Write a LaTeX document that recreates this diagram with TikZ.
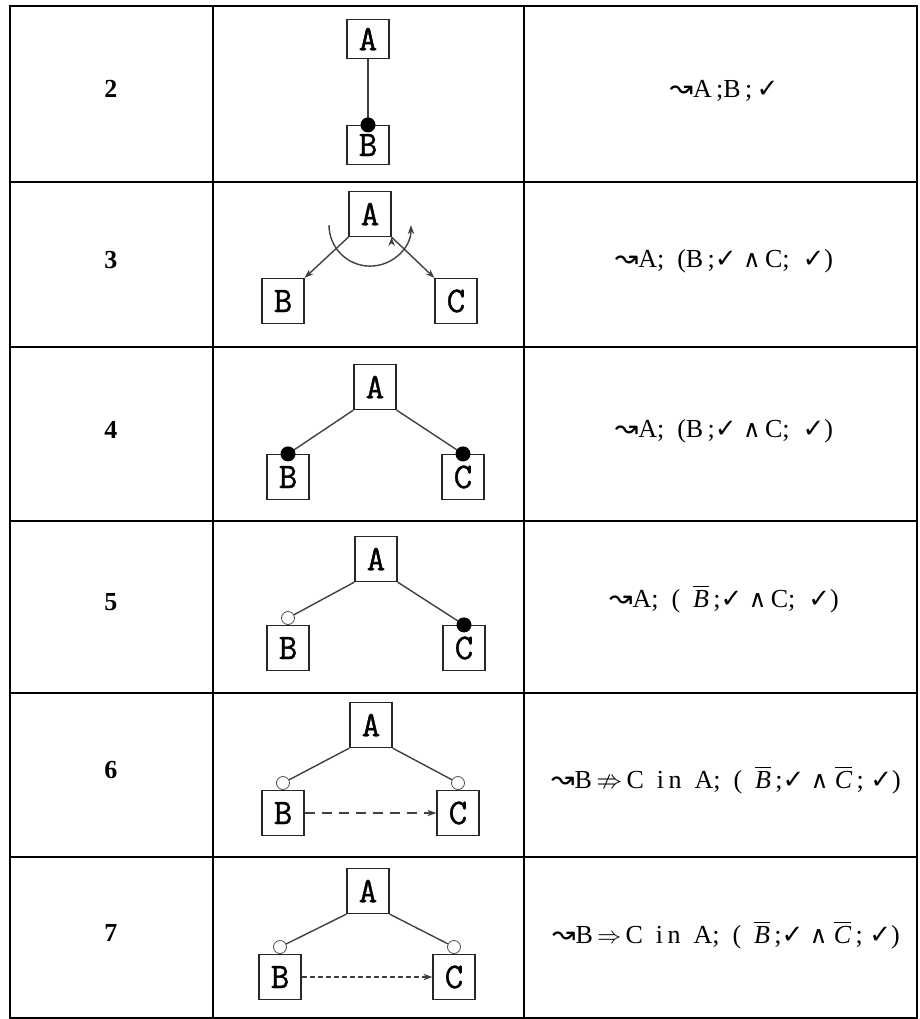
\documentclass[tikz,border=0pt]{standalone}
\usepackage{amsmath}
\usepackage{amssymb}
\usepackage{fontspec}
\setmainfont{Liberation Serif}
\newfontfamily\boxfont{Latin Modern Mono}[AutoFakeBold=1.1]
\newfontfamily\glyphfont{DejaVu Sans}
\newcommand{\lto}{{\glyphfont\fontsize{14}{14}\selectfont ↝}}
\newcommand{\ok}{{\glyphfont\bfseries ✓}}
\newcommand{\und}{{\glyphfont\fontsize{12}{14}\selectfont ∧}}
\usepackage{tikz}
\usetikzlibrary{arrows.meta,positioning,calc}

\begin{document}
\begin{tikzpicture}[x=0.5pt,y=-0.5pt,>={Stealth[length=4.5pt,width=3.2pt]},auto,
    box/.style={draw=black!85,line width=0.6pt,fill=white,inner sep=0pt,
      minimum width=21pt,minimum height=22.5pt,font=\boxfont\bfseries\fontsize{18}{18}\selectfont},
    boxlow/.style={box,minimum height=19.5pt},
    dot/.style={circle,fill=black,inner sep=0pt,minimum size=7.5pt},
    odot/.style={circle,draw=black!70,fill=white,line width=0.4pt,inner sep=0pt,minimum size=6.5pt},
    link/.style={draw=black!75,line width=0.7pt},
    rownum/.style={font=\bfseries\fontsize{13}{15}\selectfont},
    formula/.style={font=\fontsize{13}{15}\selectfont,anchor=base},
    tabline/.style={line width=1.3pt}]

      \useasboundingbox (0,0) rectangle (920,1019);

      % table
      \draw[tabline] (10,6) rectangle (917,1018);
      \draw[tabline] (213,6) -- (213,1018);
      \draw[tabline] (524,6) -- (524,1018);
      \foreach \y in {182,347,521,693,857}
        \draw[tabline] (10,\y) -- (917,\y);

      % row numbers
      \node[rownum] (n2) at (111,89) {2};
      \node[rownum] (n3) at (111,260) {3};
      \node[rownum] (n4) at (111,430) {4};
      \node[rownum] (n5) at (111,602) {5};
      \node[rownum] (n6) at (111,770) {6};
      \node[rownum] (n7) at (111,933) {7};

      % row 2
      \node[boxlow] (a2) at (368,39) {A};
      \node[boxlow] (b2) at (368,145) {B};
      \path[link] (a2.south) edge (b2.north);
      \node[dot] (d2) at (b2.north) {};

      % row 3
      \node[box] (a3) at (370,214) {A};
      \node[box] (b3) at (283,301) {B};
      \node[box] (c3) at (456,301) {C};
      \path[link,->]
      (a3.south west) edge (b3.north east)
      (a3.south east) edge (c3.north west);
      \draw[link,->] ([shift={(-41,-12)}]a3.south) arc[start angle=180,end angle=0,radius=41];

      % row 4
      \node[box] (a4) at (375,387) {A};
      \node[box] (b4) at (288,477) {B};
      \node[box] (c4) at (463,477) {C};
      \path[link]
      (a4.south west) edge (b4.north)
      (a4.south east) edge (c4.north);
      \node[dot] (db4) at (b4.north) {};
      \node[dot] (dc4) at (c4.north) {};

      % row 5
      \node[box] (a5) at (376,559) {A};
      \node[box] (b5) at (288,648) {B};
      \node[box] (c5) at (464,648) {C};
      \node[odot,anchor=south] (ob5) at (b5.north) {};
      \path[link]
      (a5.south west) edge (ob5)
      (a5.south east) edge (c5.north);
      \node[dot] (dc5) at (c5.north) {};

      % row 6
      \node[box] (a6) at (371,725) {A};
      \node[box] (b6) at (283,813) {B};
      \node[box] (c6) at (458,813) {C};
      \node[odot,anchor=south] (ob6) at (b6.north) {};
      \node[odot,anchor=south] (oc6) at (c6.north) {};
      \path[link]
      (a6.south west) edge (ob6)
      (a6.south east) edge (oc6);
      \draw[link,->,dash pattern=on 5pt off 3.5pt] (b6) -- (c6);

      % row 7
      \node[box] (a7) at (368,891) {A};
      \node[box] (b7) at (280,977) {B};
      \node[box] (c7) at (454,977) {C};
      \node[odot,anchor=south] (ob7) at (b7.north) {};
      \node[odot,anchor=south] (oc7) at (c7.north) {};
      \path[link]
      (a7.south west) edge (ob7)
      (a7.south east) edge (oc7);
      \draw[link,->,dash pattern=on 2.5pt off 1.5pt] (b7) -- (c7);

      % formulas
      \node[formula] (f2) at (724,97) {\lto A\,;B\,;\,\ok};
      \node[formula] (f3) at (724,267) {\lto A; \ (B\,;\ok\ \und\,C; \ \ok)};
      \node[formula] (f4) at (724,437) {\lto A; \ (B\,;\ok\ \und\,C; \ \ok)};
      \node[formula] (f5) at (724,607) {\lto A; \ ( \ $\overline{\mbox{\itshape B}}$\,;\ok\ \und\,C; \ \ok)};
      \node[formula] (f6) at (726,788) {\lto B\,$\nRightarrow$\,C \ i\,n \ A; \ ( \ $\overline{\mbox{\itshape B}}$\,;\ok\ \und\ $\overline{\mbox{\itshape C}}$\,; \ok)};
      \node[formula] (f7) at (726,943) {\lto B\,$\Rightarrow$\,C \ i\,n \ A; \ ( \ $\overline{\mbox{\itshape B}}$\,;\ok\ \und\ $\overline{\mbox{\itshape C}}$\,; \ok)};

  \end{tikzpicture}
\end{document}
